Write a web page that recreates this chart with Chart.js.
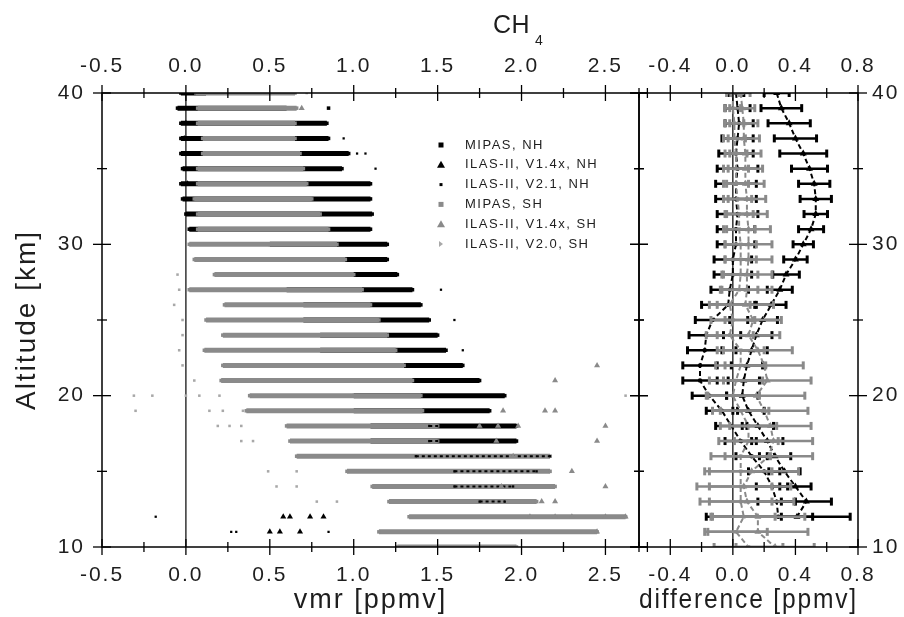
<!DOCTYPE html>
<html>
<head>
<meta charset="utf-8">
<script src="https://cdn.jsdelivr.net/npm/chart.js@4.4.1/dist/chart.umd.min.js"></script>
<style>
  html, body { margin:0; padding:0; background:#fff; }
  #wrap { position:relative; width:904px; height:617px; overflow:hidden; background:#fff; }
  canvas { position:absolute; top:0; }
  #c1 { left:0; }
  #c2 { left:600px; }
</style>
</head>
<body>
<div id="wrap">
  <canvas id="c1" width="660" height="617"></canvas>
  <canvas id="c2" width="304" height="617"></canvas>
</div>
<script>
// ================= DATA =================
// Left panel: CH4 vmr [ppmv] per altitude [km]
const altitudes = [10,11,12,13,14,15,16,17,18,19,20,21,22,23,24,25,26,27,28,29,30,31,32,33,34,35,36,37,38,39,40];

// MIPAS SH (grey) - range of values at each altitude
const mipasSHFrom = [1.26,1.15,1.33,1.21,1.11,0.96,0.66,0.62,0.60,0.36,0.38,0.21,0.22,0.11,0.22,0.12,0.23,0.02,0.17,0.05,0.02,0.07,0.07,0.05,0.07,0.07,0.10,0.10,0.07,0.07,0.06];
const mipasSHTo   = [1.97,2.45,2.62,2.09,2.20,2.17,2.17,1.50,1.50,1.41,1.40,1.35,1.30,1.25,1.20,1.15,1.10,1.05,1.00,0.95,0.90,0.85,0.80,0.75,0.72,0.70,0.68,0.65,0.65,0.66,0.65];

// MIPAS NH (black) - range of values at each altitude
const mipasNHFrom = [null,null,null,null,null,null,null,1.10,1.10,1.00,1.00,0.90,0.90,0.80,0.80,0.70,0.70,0.60,0.60,0.50,0.50,0.02,0.00,-0.02,-0.03,-0.02,-0.03,-0.03,-0.03,-0.05,-0.03];
const mipasNHTo   = [null,null,null,null,null,null,null,1.97,1.97,1.81,1.90,1.75,1.65,1.55,1.50,1.45,1.40,1.35,1.26,1.20,1.20,1.10,1.11,1.10,1.10,0.93,0.97,0.85,0.84,0.60,0.12];
const mipasNHExtraX   = [0.85];
const mipasNHExtraAlt = [39];

// ILAS-II V2.1 NH (small black)
const ilas21NHSegAlt  = [13,14,15,16,17,18];
const ilas21NHSegFrom = [1.75,1.60,1.60,1.37,1.45,1.45];
const ilas21NHSegTo   = [1.90,1.95,2.09,2.17,1.97,1.90];
const ilas21NHX   = [0.27,0.30,0.85,-0.18,0.94,1.02,1.07,1.13,1.10,1.52,1.60,1.65];
const ilas21NHAlt = [11,11,11,12,37,36,36,35,34,27,25,23];

// ILAS-II V1.4x NH (black triangles)
const ilas14NHX   = [0.50,0.56,0.68,0.58,0.62,0.74,0.82,0.00,-0.01,0.01];
const ilas14NHAlt = [11,11,11,12,12,12,12,38,37,34];

// ILAS-II V1.4x SH (grey triangles)
const ilas14SHX   = [1.89,2.14,2.20,1.75,1.86,1.98,2.50,1.85,2.45,1.95,2.30,1.88,2.50,2.12,2.20,2.05,2.20,2.30,2.50,2.62,2.45,0.69,2.20,2.45];
const ilas14SHAlt = [19,19,19,18,18,18,18,17,17,16,15,14,14,13,13,12,12,12,12,12,11,39,21,22];

// ILAS-II V2.0 SH (light grey)
const ilas20SHX   = [-0.31,-0.20,-0.30,2.62,-0.05,-0.07,-0.04,-0.02,-0.02,-0.04,-0.02,0.05,0.00,0.08,0.20,0.14,0.22,0.34,0.19,0.26,0.33,0.33,0.40,0.49,0.66,0.54,0.66,0.78,0.90,0.72];
const ilas20SHAlt = [20,20,19,20,28,26,27,25,24,23,22,21,20,20,20,19,19,19,18,18,18,17,17,15,15,14,14,13,13,40];

// Right panel: differences [ppmv]
const diffAltNH = [40,39,38,37,36,35,34,33,32,31,30,29,28,27,26,25,24,23,22,21,20,19,18,17,16,15,14,13,12];
const diffV14NH = [0.28,0.31,0.36,0.40,0.45,0.49,0.52,0.53,0.53,0.50,0.45,0.40,0.34,0.30,0.245,0.19,0.15,0.12,0.09,0.07,0.06,0.10,0.16,0.22,0.27,0.33,0.40,0.47,0.41];
const errV14NH  = [0.08,0.13,0.135,0.135,0.15,0.115,0.10,0.10,0.075,0.08,0.065,0.075,0.085,0.08,0.095,0.095,0.10,0.10,0.10,0.10,0.10,0.10,0.10,0.10,0.10,0.10,0.10,0.16,0.10];
const diffV21NH = [0.02,0.03,0.04,0.03,0.02,0.03,0.02,0.02,0.03,0.02,0.02,0.00,0.00,-0.02,-0.03,-0.13,-0.17,-0.18,-0.21,-0.21,-0.15,-0.07,-0.01,0.05,0.12,0.20,0.25,0.28,0.29];
const errV21NH  = [0.05,0.08,0.09,0.10,0.11,0.13,0.13,0.13,0.13,0.12,0.12,0.12,0.12,0.12,0.17,0.11,0.11,0.11,0.11,0.11,0.11,0.10,0.10,0.10,0.10,0.10,0.10,0.12,0.46];

const diffAltSH = [40,39,38,37,36,35,34,33,32,31,30,29,28,27,26,25,24,23,22,21,20,19,18,17,16,15,14,13,12,11,10];
const diffV14SH = [0.05,0.06,0.07,0.07,0.08,0.08,0.08,0.09,0.09,0.10,0.10,0.10,0.09,0.09,0.08,0.13,0.10,0.16,0.20,0.22,0.15,0.20,0.24,0.26,0.23,0.12,0.07,0.09,0.16,0.16,0.27];
const errV14SH  = [0.06,0.08,0.09,0.10,0.10,0.11,0.12,0.12,0.13,0.14,0.15,0.15,0.16,0.16,0.18,0.18,0.20,0.22,0.25,0.28,0.31,0.28,0.26,0.25,0.28,0.30,0.30,0.30,0.30,0.32,0.25];
const diffV20SH = [0.00,0.00,0.01,0.01,0.02,0.02,0.02,0.03,0.04,0.04,0.05,0.05,0.05,0.04,-0.02,0.00,-0.02,0.05,0.05,0.02,0.00,0.05,0.10,0.10,0.05,0.05,0.05,0.05,0.07,0.02,0.10];
const errV20SH  = [0.04,0.05,0.06,0.07,0.07,0.08,0.08,0.09,0.09,0.10,0.10,0.10,0.11,0.12,0.13,0.14,0.15,0.15,0.16,0.17,0.17,0.18,0.18,0.19,0.19,0.20,0.20,0.20,0.20,0.20,0.22];

// Tick labels
const vmrTicks  = [-0.5,0.0,0.5,1.0,1.5,2.0,2.5];
const diffTicks = [-0.4,0.0,0.4,0.8];
const altTicks  = [10,20,30,40];

// ================= HELPERS =================
const GAP = {x:null, y:null};
function segments(alts, from, to) {
  const d = [];
  alts.forEach((a,i) => {
    if (from[i] === null || to[i] === null) return;
    d.push({x:from[i], y:a});
    if (to[i] !== from[i]) d.push({x:to[i], y:a});
    d.push(GAP);
  });
  return d;
}
function points(xs, alts) { return xs.map((x,i) => ({x:x, y:alts[i]})); }
function errBars(alts, vals, errs) {
  const d = [];
  alts.forEach((a,i) => { d.push({x:vals[i]-errs[i], y:a}); d.push({x:vals[i]+errs[i], y:a}); d.push(GAP); });
  return d;
}
function profile(alts, vals) { return alts.map((a,i) => ({x:vals[i], y:a})); }

const FONT = '"Liberation Sans", Arial, sans-serif';
const TXT = '#1e1e1e';
const GREY = '#8a8a8a';
const LGREY = '#a8a8a8';

function framePlugin(cfg) {
  return {
    id: 'frame',
    beforeDraw(chart) { chart.ctx.letterSpacing = '2px'; },
    beforeDatasetsDraw(chart) {
      const {ctx, chartArea:a} = chart;
      const x0 = chart.scales.x.getPixelForValue(0);
      ctx.save(); ctx.strokeStyle = '#000'; ctx.lineWidth = 1.2;
      ctx.beginPath(); ctx.moveTo(x0, a.top); ctx.lineTo(x0, a.bottom); ctx.stroke();
      ctx.restore();
    },
    afterDatasetsDraw(chart) {
      const {ctx, chartArea:a} = chart;
      const xs = chart.scales.x, ys = chart.scales.y;
      ctx.save();
      ctx.strokeStyle = '#000';
      ctx.lineWidth = 1.5;
      ctx.strokeRect(a.left, a.top, a.right - a.left, a.bottom - a.top);
      ctx.lineWidth = 1.3;
      const seg = (x1,y1,x2,y2) => { ctx.beginPath(); ctx.moveTo(x1,y1); ctx.lineTo(x2,y2); ctx.stroke(); };
      const n = Math.round((cfg.xEnd - cfg.xStart) / cfg.xMinor);
      for (let i = 0; i <= n; i++) {
        const v = cfg.xStart + i * cfg.xMinor;
        const px = xs.getPixelForValue(v);
        const r = v / cfg.xMajor;
        const major = Math.abs(r - Math.round(r)) < 1e-6;
        const h = major ? 8 : 5;
        seg(px, a.top - h, px, a.top + h);
        seg(px, a.bottom - h, px, a.bottom + h);
      }
      for (let v = 10; v <= 40; v += 5) {
        const py = ys.getPixelForValue(v);
        const h = (v % 10 === 0) ? 9 : 5;
        seg(a.left - h, py, a.left + h, py);
        seg(a.right - h, py, a.right + h, py);
      }
      ctx.restore();
    }
  };
}

function tickFmt(v) { return Number(v).toFixed(1); }

// ================= LEFT CHART =================
const leftDatasets = [
  { label:'MIPAS, NH', data: segments(altitudes, mipasNHFrom, mipasNHTo).concat([GAP], points(mipasNHExtraX, mipasNHExtraAlt)),
    showLine:true, borderColor:'#000', backgroundColor:'#000', borderWidth:5, borderCapStyle:'butt',
    pointStyle:'rect', pointRadius:2.5, pointBorderWidth:0, order:10, mk:'square', mkColor:'#000' },
  { label:'ILAS-II, V1.4x, NH', data: points(ilas14NHX, ilas14NHAlt),
    showLine:false, borderColor:'#000', backgroundColor:'#000', pointStyle:'triangle', pointRadius:3.5, pointBorderWidth:0,
    order:2, mk:'triangle', mkColor:'#000' },
  { label:'ILAS-II, V2.1, NH', data: segments(ilas21NHSegAlt, ilas21NHSegFrom, ilas21NHSegTo).concat([GAP], points(ilas21NHX, ilas21NHAlt).flatMap(p => [p, GAP])),
    showLine:true, borderColor:'#000', backgroundColor:'#000', borderWidth:2, borderDash:[3,3], borderCapStyle:'butt',
    pointStyle:'rect', pointRadius:1.6, pointBorderWidth:0, order:5, mk:'dot', mkColor:'#000' },
  { label:'MIPAS, SH', data: segments(altitudes, mipasSHFrom, mipasSHTo),
    showLine:true, borderColor:GREY, backgroundColor:GREY, borderWidth:5, borderCapStyle:'butt',
    pointStyle:'rect', pointRadius:2.5, pointBorderWidth:0, order:8, mk:'square', mkColor:GREY },
  { label:'ILAS-II, V1.4x, SH', data: points(ilas14SHX, ilas14SHAlt),
    showLine:false, borderColor:GREY, backgroundColor:GREY, pointStyle:'triangle', pointRadius:3.5, pointBorderWidth:0,
    order:3, mk:'triangle', mkColor:GREY },
  { label:'ILAS-II, V2.0, SH', data: points(ilas20SHX, ilas20SHAlt),
    showLine:false, borderColor:LGREY, backgroundColor:LGREY, pointStyle:'rect', pointRadius:1.8, pointBorderWidth:0,
    order:4, mk:'arrow', mkColor:LGREY }
];

const legendPlugin = {
  id:'customLegend',
  afterDraw(chart) {
    const ctx = chart.ctx;
    ctx.save();
    ctx.letterSpacing = '1.5px';
    ctx.font = '13px ' + FONT;
    ctx.textBaseline = 'middle';
    ctx.textAlign = 'left';
    chart.data.datasets.forEach((ds, i) => {
      const y = 145 + i * 19.8, x = 441;
      ctx.fillStyle = ds.mkColor;
      if (ds.mk === 'square') ctx.fillRect(x-2.5, y-2.5, 5, 5);
      else if (ds.mk === 'dot') ctx.fillRect(x-1.5, y-1.5, 3, 3);
      else if (ds.mk === 'triangle') { ctx.beginPath(); ctx.moveTo(x, y-4); ctx.lineTo(x+4, y+3); ctx.lineTo(x-4, y+3); ctx.closePath(); ctx.fill(); }
      else if (ds.mk === 'arrow') { ctx.beginPath(); ctx.moveTo(x-2, y-3); ctx.lineTo(x+2, y); ctx.lineTo(x-2, y+3); ctx.closePath(); ctx.fill(); }
      ctx.fillStyle = TXT;
      ctx.fillText(ds.label, 465, y);
    });
    // top title CH4
    ctx.letterSpacing = '0.5px';
    ctx.textBaseline = 'alphabetic';
    ctx.font = '25px ' + FONT;
    ctx.fillText('CH', 493, 33);
    ctx.font = '14px ' + FONT;
    ctx.fillText('4', 535, 45);
    ctx.restore();
  }
};

const xLeftCommon = {
  type:'linear', min:-0.5, max:2.7,
  grid:{ display:false, drawTicks:false },
  border:{ display:false },
  ticks:{ stepSize:0.5, includeBounds:false, autoSkip:false, maxRotation:0, color:TXT,
          font:{ family:FONT, size:21 }, callback: tickFmt }
};

new Chart(document.getElementById('c1'), {
  type:'scatter',
  data:{ datasets: leftDatasets },
  options:{
    responsive:false, animation:false, devicePixelRatio:1,
    layout:{ padding:{ left:0, top:0, bottom:0, right:21 } },
    plugins:{ legend:{ display:false }, tooltip:{ enabled:false } },
    scales:{
      x: Object.assign({}, xLeftCommon, { position:'bottom',
           ticks: Object.assign({}, xLeftCommon.ticks, { padding:16 }),
           title:{ display:true, text:'vmr [ppmv]', color:TXT, font:{ family:FONT, size:27 }, padding:{ top:0, bottom:0 } },
           afterFit(s){ s.height = 70; } }),
      x2: Object.assign({}, xLeftCommon, { position:'top',
           ticks: Object.assign({}, xLeftCommon.ticks, { padding:14 }),
           afterFit(s){ s.height = 93; } }),
      y: { type:'linear', position:'left', min:10, max:40,
           grid:{ display:false, drawTicks:false }, border:{ display:false },
           afterBuildTicks(s){ s.ticks = altTicks.map(v => ({value:v})); },
           ticks:{ color:TXT, font:{ family:FONT, size:21 }, padding:17, autoSkip:false },
           title:{ display:true, text:'Altitude [km]', color:TXT, font:{ family:FONT, size:28 }, padding:{ top:10, bottom:0 } },
           afterFit(s){ s.width = 102; } }
    }
  },
  plugins:[ framePlugin({ xStart:-0.5, xEnd:2.75, xMinor:0.25, xMajor:0.5 }), legendPlugin ]
});

// ================= RIGHT CHART =================
const rightDatasets = [
  { label:'V1.4x NH err', data: errBars(diffAltNH, diffV14NH, errV14NH), showLine:true, borderColor:'#000', borderWidth:2.5,
    pointStyle:'line', rotation:90, pointRadius:4, pointBorderWidth:3, pointBorderColor:'#000', order:8 },
  { label:'V1.4x NH', data: profile(diffAltNH, diffV14NH), showLine:true, borderColor:'#000', backgroundColor:'#000',
    borderWidth:2, borderDash:[5,3], pointStyle:'triangle', pointRadius:4, pointBorderWidth:0, order:7 },
  { label:'V2.1 NH err', data: errBars(diffAltNH, diffV21NH, errV21NH), showLine:true, borderColor:'#000', borderWidth:2.5,
    pointStyle:'line', rotation:90, pointRadius:4, pointBorderWidth:3, pointBorderColor:'#000', order:6 },
  { label:'V2.1 NH', data: profile(diffAltNH, diffV21NH), showLine:true, borderColor:'#000', backgroundColor:'#000',
    borderWidth:2, borderDash:[5,3], pointStyle:'circle', pointRadius:2.2, pointBorderWidth:0, order:5 },
  { label:'V1.4x SH err', data: errBars(diffAltSH, diffV14SH, errV14SH), showLine:true, borderColor:GREY, borderWidth:2.5,
    pointStyle:'line', rotation:90, pointRadius:4, pointBorderWidth:3, pointBorderColor:GREY, order:4 },
  { label:'V1.4x SH', data: profile(diffAltSH, diffV14SH), showLine:true, borderColor:GREY, backgroundColor:GREY,
    borderWidth:2, borderDash:[5,3], pointStyle:'triangle', pointRadius:4, pointBorderWidth:0, order:3 },
  { label:'V2.0 SH err', data: errBars(diffAltSH, diffV20SH, errV20SH), showLine:true, borderColor:GREY, borderWidth:2.5,
    pointStyle:'line', rotation:90, pointRadius:4, pointBorderWidth:3, pointBorderColor:GREY, order:2 },
  { label:'V2.0 SH', data: profile(diffAltSH, diffV20SH), showLine:true, borderColor:GREY, backgroundColor:GREY,
    borderWidth:2, borderDash:[5,3], pointStyle:'rect', pointRadius:2.5, pointBorderWidth:0, order:1 }
];

const xRightCommon = {
  type:'linear', min:-0.6, max:0.8,
  grid:{ display:false, drawTicks:false },
  border:{ display:false },
  ticks:{ stepSize:0.4, includeBounds:false, autoSkip:false, maxRotation:0, color:TXT,
          font:{ family:FONT, size:21 }, callback: tickFmt }
};

new Chart(document.getElementById('c2'), {
  type:'scatter',
  data:{ datasets: rightDatasets },
  options:{
    responsive:false, animation:false, devicePixelRatio:1,
    layout:{ padding:{ left:39, top:0, bottom:0, right:0 } },
    plugins:{ legend:{ display:false }, tooltip:{ enabled:false } },
    scales:{
      x: Object.assign({}, xRightCommon, { position:'bottom',
           ticks: Object.assign({}, xRightCommon.ticks, { padding:16 }),
           title:{ display:true, text:'difference [ppmv]', color:TXT, font:{ family:FONT, size:27 }, padding:{ top:0, bottom:0 } },
           afterFit(s){ s.height = 70; } }),
      x2: Object.assign({}, xRightCommon, { position:'top',
           ticks: Object.assign({}, xRightCommon.ticks, { padding:14 }),
           afterFit(s){ s.height = 93; } }),
      y: { type:'linear', position:'right', min:10, max:40,
           grid:{ display:false, drawTicks:false }, border:{ display:false },
           afterBuildTicks(s){ s.ticks = altTicks.map(v => ({value:v})); },
           ticks:{ color:TXT, font:{ family:FONT, size:21 }, padding:14, autoSkip:false },
           afterFit(s){ s.width = 46; } }
    }
  },
  plugins:[ framePlugin({ xStart:-0.6, xEnd:0.8, xMinor:0.2, xMajor:0.4 }) ]
});
</script>
</body>
</html>
